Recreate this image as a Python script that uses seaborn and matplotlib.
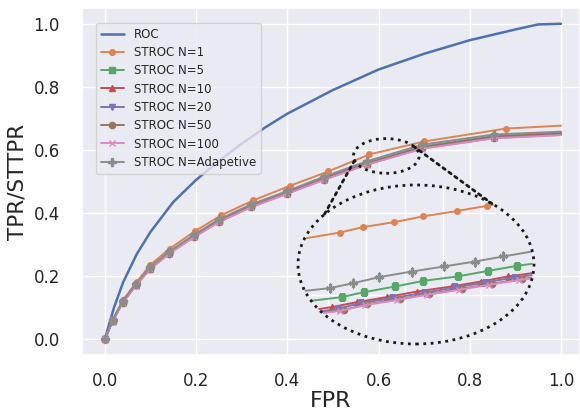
import numpy as np
import matplotlib
matplotlib.use("Agg")
import matplotlib.pyplot as plt
import seaborn as sns
from matplotlib.patches import Ellipse, ConnectionPatch

sns.set_theme(style="darkgrid")
plt.rcParams["font.family"] = ["DejaVu Sans"]

# ---- main curves ----
fpr_roc = [0, 0.02, 0.04, 0.07, 0.1, 0.15, 0.2, 0.25, 0.3, 0.35, 0.4, 0.5,
           0.6, 0.7, 0.8, 0.9, 0.95, 1.0]
tpr_roc = [0, 0.10, 0.18, 0.27, 0.34, 0.435, 0.505, 0.565, 0.62, 0.67, 0.715,
           0.79, 0.855, 0.905, 0.948, 0.982, 0.998, 1.0]

fpr_n1 = [0, 0.018, 0.04, 0.07, 0.1, 0.142, 0.198, 0.255, 0.325, 0.405, 0.49,
          0.58, 0.70, 0.88, 1.0]
sttpr_n1 = [0, 0.065, 0.125, 0.182, 0.236, 0.287, 0.343, 0.393, 0.44, 0.486,
            0.532, 0.586, 0.627, 0.668, 0.677]

fpr_st = [0, 0.017, 0.039, 0.068, 0.099, 0.14, 0.195, 0.25, 0.32, 0.40, 0.48,
          0.574, 0.696, 0.853, 1.0]
sttpr_n5 = [0, 0.059, 0.118, 0.173, 0.225, 0.274, 0.327, 0.376, 0.423, 0.466,
            0.511, 0.559, 0.611, 0.644, 0.654]
sttpr_n10 = [0, 0.058, 0.117, 0.172, 0.224, 0.273, 0.326, 0.374, 0.421, 0.464,
             0.509, 0.556, 0.608, 0.641, 0.651]
sttpr_n20 = [0, 0.058, 0.116, 0.171, 0.223, 0.272, 0.325, 0.373, 0.420, 0.463,
             0.507, 0.555, 0.606, 0.639, 0.649]
sttpr_n50 = [0, 0.057, 0.116, 0.171, 0.222, 0.271, 0.324, 0.372, 0.419, 0.462,
             0.506, 0.554, 0.605, 0.638, 0.648]
sttpr_n100 = [0, 0.057, 0.115, 0.170, 0.222, 0.270, 0.323, 0.371, 0.418, 0.461,
              0.505, 0.553, 0.604, 0.637, 0.647]
sttpr_adapt = [0, 0.06, 0.12, 0.175, 0.228, 0.277, 0.331, 0.38, 0.427, 0.47,
               0.515, 0.564, 0.617, 0.649, 0.658]

# ---- zoomed-in detail (inset) ----
zfpr_n1 = [0.5489, 0.5663, 0.5782, 0.5945, 0.6095, 0.6273, 0.6433, 0.66]
zsttpr_n1 = [0.5846, 0.5880, 0.5913, 0.5943, 0.5978, 0.6011, 0.6043, 0.6075]
zfpr_n5 = [0.548, 0.5672, 0.5788, 0.5952, 0.6098, 0.6278, 0.6437, 0.6590, 0.6665]
zsttpr_n5 = [0.5459, 0.5486, 0.5516, 0.5551, 0.5585, 0.5612, 0.5646, 0.5677, 0.5689]
zfpr_n10 = [0.5532, 0.5619, 0.5750, 0.5907, 0.6064, 0.6247, 0.6399, 0.6543, 0.6665]
zsttpr_n10 = [0.5409, 0.5425, 0.5455, 0.5486, 0.5520, 0.5551, 0.5581, 0.5612, 0.5632]
zfpr_n20 = [0.5545, 0.5650, 0.5770, 0.5935, 0.6100, 0.6265, 0.6420, 0.6570, 0.6665]
zsttpr_n20 = [0.5395, 0.5415, 0.5450, 0.5480, 0.5512, 0.5545, 0.5575, 0.5605, 0.5620]
zfpr_n50 = [0.5558, 0.5685, 0.5806, 0.5977, 0.6130, 0.6300, 0.6456, 0.6613, 0.6665]
zsttpr_n50 = [0.5390, 0.5409, 0.5443, 0.5474, 0.5506, 0.5537, 0.5567, 0.5596, 0.5604]
zfpr_n100 = [0.5550, 0.5665, 0.5795, 0.5960, 0.6115, 0.6285, 0.6440, 0.6600, 0.6665]
zsttpr_n100 = [0.5385, 0.5402, 0.5437, 0.5468, 0.5500, 0.5530, 0.5561, 0.5590, 0.5600]
zfpr_adapt = [0.548, 0.5610, 0.5732, 0.5868, 0.6038, 0.6207, 0.6369, 0.6517, 0.6665]
zsttpr_adapt = [0.5524, 0.5541, 0.5571, 0.5608, 0.5642, 0.5673, 0.5703, 0.5734, 0.5764]

pal = sns.color_palette("deep")
series = [
    ("STROC N=1", fpr_n1, sttpr_n1, zfpr_n1, zsttpr_n1, pal[1], "o", 4),
    ("STROC N=5", fpr_st, sttpr_n5, zfpr_n5, zsttpr_n5, pal[2], "s", 5),
    ("STROC N=10", fpr_st, sttpr_n10, zfpr_n10, zsttpr_n10, pal[3], "^", 5),
    ("STROC N=20", fpr_st, sttpr_n20, zfpr_n20, zsttpr_n20, pal[4], "v", 5),
    ("STROC N=50", fpr_st, sttpr_n50, zfpr_n50, zsttpr_n50, pal[5], "o", 4.5),
    ("STROC N=100", fpr_st, sttpr_n100, zfpr_n100, zsttpr_n100, pal[6], "x", 5),
    ("STROC N=Adapetive", fpr_st, sttpr_adapt, zfpr_adapt, zsttpr_adapt, pal[7], "P", 5.5),
]

fig = plt.figure(figsize=(5.8, 4.13), dpi=100)
ax = fig.add_axes([0.1414, 0.1404, 0.8586, 0.8402])

sns.lineplot(x=fpr_roc, y=tpr_roc, ax=ax, color=pal[0], lw=1.8, label="ROC")
for name, x, y, zx, zy, c, m, ms in series:
    sns.lineplot(x=x, y=y, ax=ax, color=c, lw=1.4, marker=m, markersize=ms,
                 markeredgecolor=c, markeredgewidth=1, markevery=slice(0, -1),
                 label=name)

ax.set_xlim(-0.05, 1.0416)
ax.set_ylim(-0.05, 1.05)
ax.set_xticks([0, 0.2, 0.4, 0.6, 0.8, 1.0])
ax.set_yticks([0, 0.2, 0.4, 0.6, 0.8, 1.0])
ax.tick_params(axis="x", labelsize=12, pad=6)
ax.tick_params(axis="y", labelsize=12, pad=10)
ax.set_xlabel("FPR", fontsize=16, labelpad=1)
ax.set_ylabel("TPR/STTPR", fontsize=15.5, labelpad=4)
ax.legend(loc="upper left", bbox_to_anchor=(0.028, 0.957), borderaxespad=0,
          fontsize=8.5, labelspacing=0.45)

# small ellipse marking the zoomed region
small = dict(xy=(0.617, 0.581), width=0.144, height=0.110)
ax.add_patch(Ellipse(**small, fill=False, ec="k", ls=":", lw=2, zorder=6))

# inset
ax_in = fig.add_axes([0.5138, 0.1671, 0.4069, 0.385])
ax_in.patch.set_visible(False)
for s in ax_in.spines.values():
    s.set_visible(False)
bg = Ellipse((0.5, 0.5), 1, 1, transform=ax_in.transAxes, fc="#EAEAF2",
             ec="none", zorder=0.1)
ax_in.add_patch(bg)
for name, x, y, zx, zy, c, m, ms in series:
    ln = ax_in.plot(zx, zy, color=c, lw=1.4, marker=m, markersize=ms,
                    markeredgecolor=c, markevery=slice(1, -1))[0]
    ln.set_clip_path(bg)
ax_in.set_xlim(0.5443, 0.6677)
ax_in.set_ylim(0.520, 0.617)
ax_in.set_xticks([0.56, 0.58, 0.60, 0.62, 0.64])
ax_in.set_yticks([0.55, 0.60])
ax_in.tick_params(labelbottom=False, labelleft=False)
for gl in ax_in.get_xgridlines() + ax_in.get_ygridlines():
    gl.set_clip_path(bg)
ax_in.add_patch(Ellipse((0.5, 0.5), 1, 1, transform=ax_in.transAxes, fill=False,
                        ec="k", ls=":", lw=2, clip_on=False, zorder=5))

# connector lines between the two ellipses
def on_ellipse(cx, cy, w, h, deg):
    t = np.deg2rad(deg)
    return (cx + w / 2 * np.cos(t), cy + h / 2 * np.sin(t))

for a_deg, b_deg in [(195, 141), (35, 50)]:
    pa = on_ellipse(small["xy"][0], small["xy"][1], small["width"], small["height"], a_deg)
    pb = on_ellipse(0.5, 0.5, 1, 1, b_deg)
    con = ConnectionPatch(xyA=pa, coordsA=ax.transData, xyB=pb,
                          coordsB=ax_in.transAxes, ls=":", lw=2, color="k")
    fig.add_artist(con)

fig.savefig("out.png", dpi=100)
